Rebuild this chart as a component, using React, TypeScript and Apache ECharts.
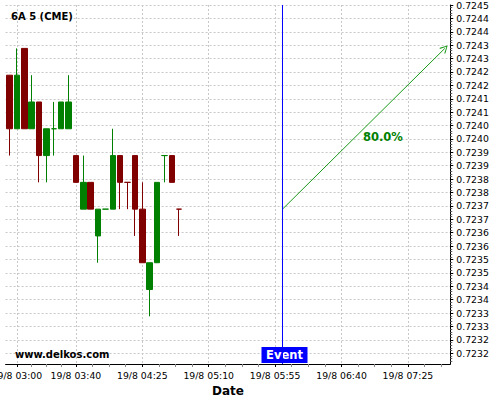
import React, { useEffect, useRef } from 'react';
import * as echarts from 'echarts';

// ---- data ----
const candleTimes = ['02:55', '03:00', '03:05', '03:10', '03:15', '03:20', '03:25', '03:30', '03:35', '03:40', '03:45', '03:50', '03:55', '04:00', '04:05', '04:10', '04:15', '04:20', '04:25', '04:30', '04:35', '04:40', '04:45', '04:50'];
const openPrices = [0.7242, 0.7240, 0.7243, 0.7240, 0.7241, 0.7239, 0.7240, 0.7240, 0.7240, 0.7239, 0.7237, 0.7238, 0.7236, 0.7237, 0.7237, 0.7239, 0.7238, 0.7239, 0.7237, 0.7234, 0.7235, 0.7239, 0.7239, 0.7237];
const closePrices = [0.7240, 0.7242, 0.7240, 0.7241, 0.7239, 0.7240, 0.7240, 0.7241, 0.7241, 0.7238, 0.7238, 0.7237, 0.7237, 0.7237, 0.7239, 0.7238, 0.7238, 0.7237, 0.7235, 0.7235, 0.7238, 0.7239, 0.7238, 0.7237];
const lowPrices = [0.7239, 0.7240, 0.7240, 0.7240, 0.7238, 0.7238, 0.7239, 0.7240, 0.7240, 0.7238, 0.7237, 0.7237, 0.7235, 0.7237, 0.7237, 0.7237, 0.7237, 0.7236, 0.7235, 0.7233, 0.7235, 0.7238, 0.7238, 0.7236];
const highPrices = [0.7242, 0.7243, 0.7243, 0.7242, 0.7241, 0.7240, 0.7241, 0.7241, 0.7242, 0.7239, 0.7239, 0.7238, 0.7237, 0.7237, 0.7240, 0.7239, 0.7238, 0.7239, 0.7238, 0.7235, 0.7238, 0.7239, 0.7239, 0.7237];
const dojiBearishTimes = ['04:15', '04:50'];

const yTickValues = [0.724462, 0.724412, 0.724362, 0.724312, 0.724262, 0.724212, 0.724162, 0.724112, 0.724062, 0.724012, 0.723962, 0.723912, 0.723862, 0.723812, 0.723762, 0.723712, 0.723662, 0.723612, 0.723562, 0.723512, 0.723462, 0.723412, 0.723362, 0.723312, 0.723262, 0.723212, 0.723162];
const yMin = 0.723122;
const yMax = 0.724462;

const xLabelTimes = ['03:00', '03:40', '04:25', '05:10', '05:55', '06:40', '07:25'];
const xMin = '02:52.34';
const xMax = '07:53.7';

const titleText = '6A 5 (CME)';
const watermarkText = 'www.delkos.com';
const xAxisName = 'Date';
const datePrefix = '19/8 ';

const eventTime = '06:00';
const eventLabel = 'Event';
const arrowStartTime = '06:00';
const arrowStartPrice = 0.7237;
const arrowEndTime = '07:50';
const arrowEndPrice = 0.7243;
const probabilityText = '80.0%';
const probabilityTime = '07:08';
const probabilityPrice = 0.72397;

// ---- helpers ----
const toMin = (t: string): number => {
  const [h, m] = t.split(':');
  return Number(h) * 60 + Number(m);
};
const pad = (n: number) => (n < 10 ? '0' + n : '' + n);
const fmtTime = (v: number) => {
  const r = Math.round(v);
  return datePrefix + pad(Math.floor(r / 60)) + ':' + pad(r % 60);
};

const FONT = '"DejaVu Sans", sans-serif';
const UP = '#008000';
const DOWN = '#800000';
const EVENT_BLUE = '#0000ff';
const ARROW_GREEN = '#1a9a1a';

export default function App() {
  const ref = useRef<HTMLDivElement>(null);

  useEffect(() => {
    if (!ref.current) return;
    const chart = echarts.init(ref.current, undefined, { renderer: 'svg' });

    const xLabelValues = xLabelTimes.map(toMin);
    const xMinV = toMin(xMin);
    const xMaxV = toMin(xMax);
    const xMinor: number[] = [];
    for (let i = 0; i < xLabelValues.length; i++) {
      const a = xLabelValues[i];
      const step = (i < xLabelValues.length - 1 ? xLabelValues[i + 1] - a : xLabelValues[i] - xLabelValues[i - 1]) / 4;
      for (let k = 1; k < 4; k++) {
        const v = a + k * step;
        if (v < xMaxV) xMinor.push(v);
      }
    }
    const yMinor: number[] = [];
    for (let i = 0; i < yTickValues.length; i++) {
      for (let k = 1; k < 5; k++) {
        const v = yTickValues[i] - k * 0.00001;
        if (v > yMin) yMinor.push(v);
      }
    }

    const data = candleTimes.map((t, i) => {
      const o = openPrices[i];
      const c = closePrices[i];
      const item: any = { value: [toMin(t), o, c, lowPrices[i], highPrices[i]] };
      if (o === c) {
        const col = dojiBearishTimes.includes(t) ? DOWN : UP;
        item.itemStyle = { color: col, color0: col, borderColor: col, borderColor0: col };
      }
      return item;
    });

    const chevron = 'path://M5,0 L10,9 L9,10 L5,2.2 L1,10 L0,9 Z';

    const xCommon = {
      type: 'value',
      min: xMinV,
      max: xMaxV,
      position: 'bottom',
    };

    chart.setOption({
      animation: false,
      textStyle: { fontFamily: FONT },
      grid: { left: 5.58, right: 49.72, top: 5, bottom: 36, containLabel: false, outerBoundsMode: 'none' },
      xAxis: [
        {
          ...xCommon,
          name: xAxisName,
          nameLocation: 'middle',
          nameGap: 19,
          nameTextStyle: { fontFamily: FONT, fontSize: 12, fontWeight: 'bold', color: '#000' },
          axisLine: { onZero: false, lineStyle: { color: '#000', width: 1 } },
          axisTick: { show: true, customValues: xLabelValues, length: 3, lineStyle: { color: '#000' } },
          axisLabel: {
            customValues: xLabelValues,
            formatter: (v: number) => fmtTime(v),
            fontFamily: FONT,
            fontSize: 9.3,
            color: '#000',
            margin: 7,
            hideOverlap: false,
          },
          splitLine: { show: true, lineStyle: { color: '#c8c8c8', type: [2, 2], width: 1 } },
        },
        {
          ...xCommon,
          axisLine: { show: false, onZero: false },
          axisTick: { show: true, customValues: xMinor, length: 3, lineStyle: { color: '#888' } },
          axisLabel: { show: false },
          splitLine: { show: false },
        },
      ],
      yAxis: [
        {
          type: 'value',
          min: yMin,
          max: yMax,
          position: 'right',
          axisLine: { show: true, onZero: false, lineStyle: { color: '#000', width: 1 } },
          axisTick: { show: true, customValues: yTickValues, length: 3, lineStyle: { color: '#000' } },
          axisLabel: {
            customValues: yTickValues,
            formatter: (v: number) => v.toFixed(4),
            fontFamily: FONT,
            fontSize: 9.3,
            color: '#000',
            margin: 6,
            showMinLabel: true,
            showMaxLabel: true,
          },
          splitLine: { show: true, lineStyle: { color: '#c8c8c8', type: [2, 2], width: 1 } },
        },
        {
          type: 'value',
          min: yMin,
          max: yMax,
          position: 'right',
          axisLine: { show: false, onZero: false },
          axisTick: { show: true, customValues: yMinor, length: 2, lineStyle: { color: '#666' } },
          axisLabel: { show: false },
          splitLine: { show: false },
        },
      ],
      graphic: [
        {
          type: 'text',
          x: 11,
          y: 16.5,
          style: { text: titleText, font: 'bold 10px ' + FONT, fill: '#000', textAlign: 'left', textVerticalAlign: 'middle' },
          z: 100,
        },
        {
          type: 'text',
          x: 15,
          y: 354,
          style: { text: watermarkText, font: 'bold 10px ' + FONT, fill: '#000', textAlign: 'left', textVerticalAlign: 'middle' },
          z: 100,
        },
      ],
      series: [
        {
          type: 'candlestick',
          xAxisIndex: 0,
          yAxisIndex: 0,
          encode: { x: 0, y: [1, 2, 3, 4] },
          barWidth: 6,
          itemStyle: { color: UP, color0: DOWN, borderColor: UP, borderColor0: DOWN, borderWidth: 1 },
          data,
        },
        {
          type: 'line',
          name: 'event',
          xAxisIndex: 0,
          yAxisIndex: 0,
          data: [
            [toMin(eventTime), yMin],
            [toMin(eventTime), yMax],
          ],
          silent: true,
          symbol: 'none',
          showSymbol: false,
          lineStyle: { color: EVENT_BLUE, width: 1, type: 'solid' },
          itemStyle: { color: EVENT_BLUE },
          z: 5,
          markPoint: {
            silent: true,
            data: [
              {
                coord: [toMin(eventTime), yMin],
                symbol: 'rect',
                symbolSize: [46, 16],
                symbolOffset: [2, -9],
                itemStyle: { color: EVENT_BLUE },
                label: { show: true, position: 'inside', formatter: eventLabel, color: '#fff', fontFamily: FONT, fontSize: 11.5, fontWeight: 'bold' },
              },
            ],
          },
        },
        {
          type: 'line',
          name: 'forecast',
          xAxisIndex: 0,
          yAxisIndex: 0,
          data: [],
          silent: true,
          color: ARROW_GREEN,
          markLine: {
            silent: true,
            symbol: ['none', chevron],
            symbolSize: [8, 8],
            label: { show: false },
            lineStyle: { color: ARROW_GREEN, width: 1, type: 'solid' },
            itemStyle: { color: ARROW_GREEN },
            data: [
              [
                { coord: [toMin(arrowStartTime), arrowStartPrice] },
                { coord: [toMin(arrowEndTime), arrowEndPrice] },
              ],
            ],
          },
          markPoint: {
            silent: true,
            data: [
              {
                coord: [toMin(probabilityTime), probabilityPrice],
                symbol: 'rect',
                symbolSize: 1,
                itemStyle: { color: 'rgba(0,0,0,0)' },
                label: { show: true, position: 'inside', formatter: probabilityText, color: '#008000', fontFamily: FONT, fontSize: 11.5, fontWeight: 'bold' },
              },
            ],
          },
        },
      ],
    });

    return () => chart.dispose();
  }, []);

  return <div ref={ref} style={{ position: 'absolute', left: 0, top: 0, width: 500, height: 400 }} />;
}
